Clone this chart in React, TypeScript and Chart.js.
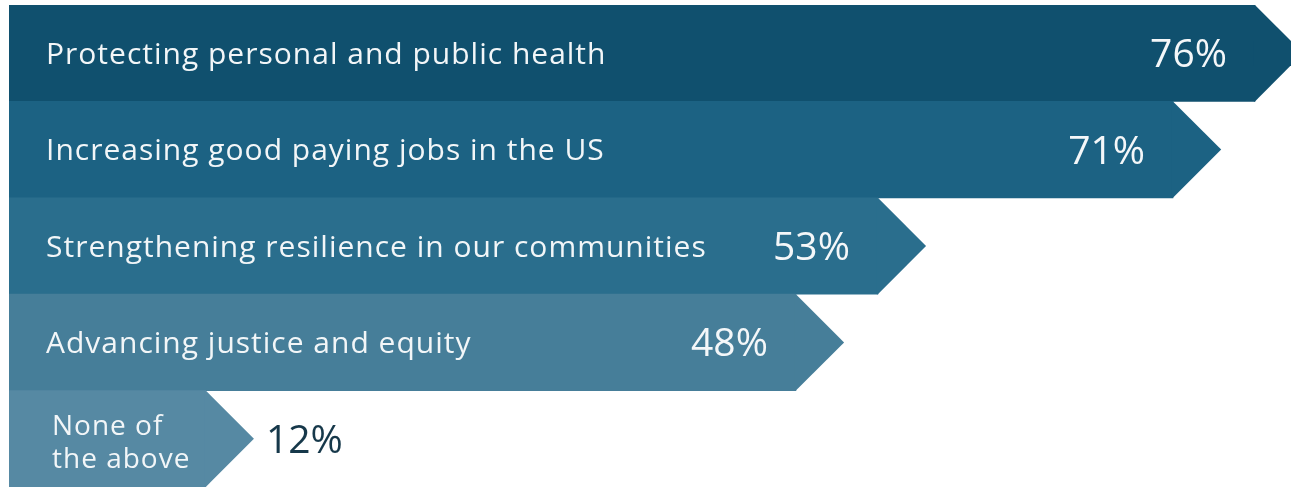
import React, { useEffect, useRef } from "react";
import { Chart, registerables } from "chart.js";

Chart.register(...registerables);

const categories: (string | string[])[] = [
  "Protecting personal and public health",
  "Increasing good paying jobs in the US",
  "Strengthening resilience in our communities",
  "Advancing justice and equity",
  ["None of", "the above"],
];
const values = [76, 71, 53, 48, 12];
const valueLabels = ["76%", "71%", "53%", "48%", "12%"];
const barColors = ["#10506e", "#1c6283", "#2a6e8d", "#467e99", "#5689a3"];

const FONT = "'Open Sans', sans-serif";

const chevronPlugin = {
  id: "chevron",
  afterDatasetsDraw(chart: any) {
    const ctx = chart.ctx as CanvasRenderingContext2D;
    const meta = chart.getDatasetMeta(0);
    ctx.save();
    meta.data.forEach((bar: any, i: number) => {
      const { x, y, height, base } = bar.getProps(["x", "y", "height", "base"], true);
      const top = y - height / 2;
      const bottom = y + height / 2;
      const depth = height / 2;
      // arrow tip
      ctx.fillStyle = barColors[i];
      ctx.beginPath();
      ctx.moveTo(x - 1, top);
      ctx.lineTo(x, top);
      ctx.lineTo(x + depth, y);
      ctx.lineTo(x, bottom);
      ctx.lineTo(x - 1, bottom);
      ctx.closePath();
      ctx.fill();

      // category label
      const lab = categories[i];
      ctx.fillStyle = "#f2f6f8";
      ctx.textAlign = "left";
      ctx.textBaseline = "alphabetic";
      (ctx as any).letterSpacing = "1px";
      const labelX = base + 37;
      if (Array.isArray(lab)) {
        const f = 28;
        ctx.font = `500 ${f}px ${FONT}`;
        ctx.fillText(lab[0], labelX + 6, y + 0.36 * f - 14);
        ctx.fillText(lab[1], labelX + 6, y + 0.36 * f + 19);
      } else {
        const f = 30;
        ctx.font = `500 ${f}px ${FONT}`;
        ctx.fillText(lab, labelX, y + 0.36 * f);
      }
      (ctx as any).letterSpacing = "0px";

      // value label
      const pf = 39;
      ctx.font = `${pf}px ${FONT}`;
      if (values[i] >= 20) {
        ctx.fillStyle = "#f4f7f9";
        ctx.textAlign = "right";
        ctx.fillText(valueLabels[i], x - 28, y + 0.36 * pf);
      } else {
        ctx.fillStyle = "#16384a";
        ctx.textAlign = "left";
        ctx.fillText(valueLabels[i], x + depth + 12, y + 0.36 * pf);
      }
    });
    ctx.restore();
  },
};

export default function App() {
  const ref = useRef<HTMLCanvasElement>(null);
  useEffect(() => {
    if (!ref.current) return;
    const chart = new Chart(ref.current, {
      type: "bar",
      data: {
        labels: categories.map((c) => (Array.isArray(c) ? c.join(" ") : c)),
        datasets: [
          {
            data: values,
            backgroundColor: barColors,
            borderWidth: 0,
            barPercentage: 1,
            categoryPercentage: 1,
          },
        ],
      },
      options: {
        indexAxis: "y",
        animation: false,
        responsive: false,
        maintainAspectRatio: false,
        layout: { padding: { left: 9, top: 5, right: 0, bottom: 2 } },
        scales: {
          x: { display: false, min: 0, max: 78.2 },
          y: { display: false },
        },
        plugins: {
          legend: { display: false },
          tooltip: { enabled: false },
        },
      },
      plugins: [chevronPlugin],
    });
    return () => chart.destroy();
  }, []);
  return (
    <div style={{ position: "absolute", left: 0, top: 0, width: 1291, height: 489, background: "#fff" }}>
      <canvas ref={ref} width={1291} height={489} style={{ width: 1291, height: 489 }} />
    </div>
  );
}
